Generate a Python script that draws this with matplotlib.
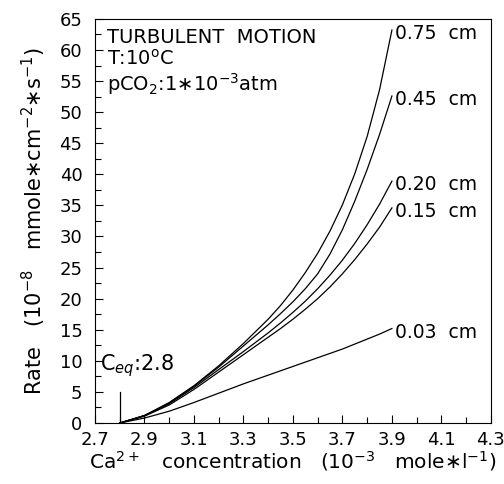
"""Dissolution rate vs Ca2+ concentration, turbulent motion."""
import matplotlib

matplotlib.use("Agg")
import matplotlib.pyplot as plt
from matplotlib.ticker import FixedLocator, MultipleLocator

plt.rcParams["font.family"] = ["DejaVu Sans"]
plt.rcParams["mathtext.fontset"] = "dejavusans"

# Ca2+ concentration (10^-3 mole/l)
conc = [2.8, 2.9, 3.0, 3.1, 3.2, 3.3, 3.4, 3.45, 3.5, 3.55, 3.6, 3.65,
        3.7, 3.75, 3.8, 3.85, 3.9]

# rate (10^-8 mmole cm^-2 s^-1) for each film thickness
rate_075 = [0, 1.2, 3.3, 6.0, 9.2, 12.8, 16.7, 18.9, 21.4, 24.2, 27.3, 30.9,
            35.1, 40.1, 46.1, 53.6, 63.2]
rate_045 = [0, 1.2, 3.2, 5.9, 9.0, 12.4, 15.8, 17.6, 19.5, 21.6, 24.0, 27.2,
            31.1, 35.7, 40.8, 46.4, 52.6]
rate_020 = [0, 1.2, 3.1, 5.7, 8.6, 11.5, 14.5, 16.1, 17.8, 19.6, 21.6, 23.8,
            26.2, 28.9, 31.9, 35.2, 38.9]
rate_015 = [0, 1.1, 2.9, 5.4, 8.2, 11.0, 13.8, 15.2, 16.7, 18.3, 20.0, 21.9,
            24.0, 26.3, 28.8, 31.5, 34.6]
rate_003 = [0, 0.8, 1.9, 3.3, 4.8, 6.3, 7.7, 8.4, 9.1, 9.8, 10.5, 11.2,
            11.9, 12.7, 13.5, 14.3, 15.2]

curve_labels = ["0.75  cm", "0.45  cm", "0.20  cm", "0.15  cm", "0.03  cm"]
curves = [rate_075, rate_045, rate_020, rate_015, rate_003]

x_ticks = [2.7, 2.9, 3.1, 3.3, 3.5, 3.7, 3.9, 4.1, 4.3]
c_eq = 2.8

fig = plt.figure(figsize=(5.04, 4.84), dpi=100)
ax = fig.add_axes([0.1885, 0.126, 0.7855, 0.835])

for label, values in zip(curve_labels, curves):
    ax.plot(conc, values, color="black", lw=0.9)
    ax.text(conc[-1] + 0.012, values[-1] - 0.6, label, fontsize=13.5,
            ha="left", va="center")

# equilibrium marker
ax.plot([c_eq, c_eq], [0, 5], color="black", lw=0.9)
ax.text(2.72, 9.3, "C$_{eq}$:2.8", fontsize=15, ha="left", va="center")

ax.text(2.75, 63.6, "TURBULENT  MOTION", fontsize=14, ha="left", va="top")
ax.text(2.75, 60.2, "T:10$^{\\mathregular{o}}$C", fontsize=14, ha="left", va="top")
ax.text(2.75, 56.6, "pCO$_{2}$:1∗10$^{-3}$atm", fontsize=14, ha="left", va="top")

ax.set_xlim(2.7, 4.3)
ax.set_ylim(0, 65)
ax.xaxis.set_major_locator(FixedLocator(x_ticks))
ax.xaxis.set_minor_locator(MultipleLocator(0.1))
ax.yaxis.set_major_locator(MultipleLocator(5))
ax.yaxis.set_minor_locator(MultipleLocator(2.5))
ax.tick_params(which="both", direction="in", labelsize=13, width=0.8)
ax.tick_params(which="major", length=6)
ax.tick_params(which="minor", length=4)
ax.tick_params(axis="y", pad=9)
ax.tick_params(axis="x", pad=6)
ax.set_xticklabels([f"{v:.1f}" for v in x_ticks])

ax.set_xlabel("Ca$^{2+}$   concentration   (10$^{-3}$   mole∗l$^{-1}$)",
              fontsize=14.5, labelpad=0)
ax.set_ylabel("Rate   (10$^{-8}$   mmole∗cm$^{-2}$∗s$^{-1}$)",
              fontsize=15, labelpad=8)

for spine in ax.spines.values():
    spine.set_linewidth(0.8)

fig.savefig("out.png", dpi=100)
plt.close(fig)
